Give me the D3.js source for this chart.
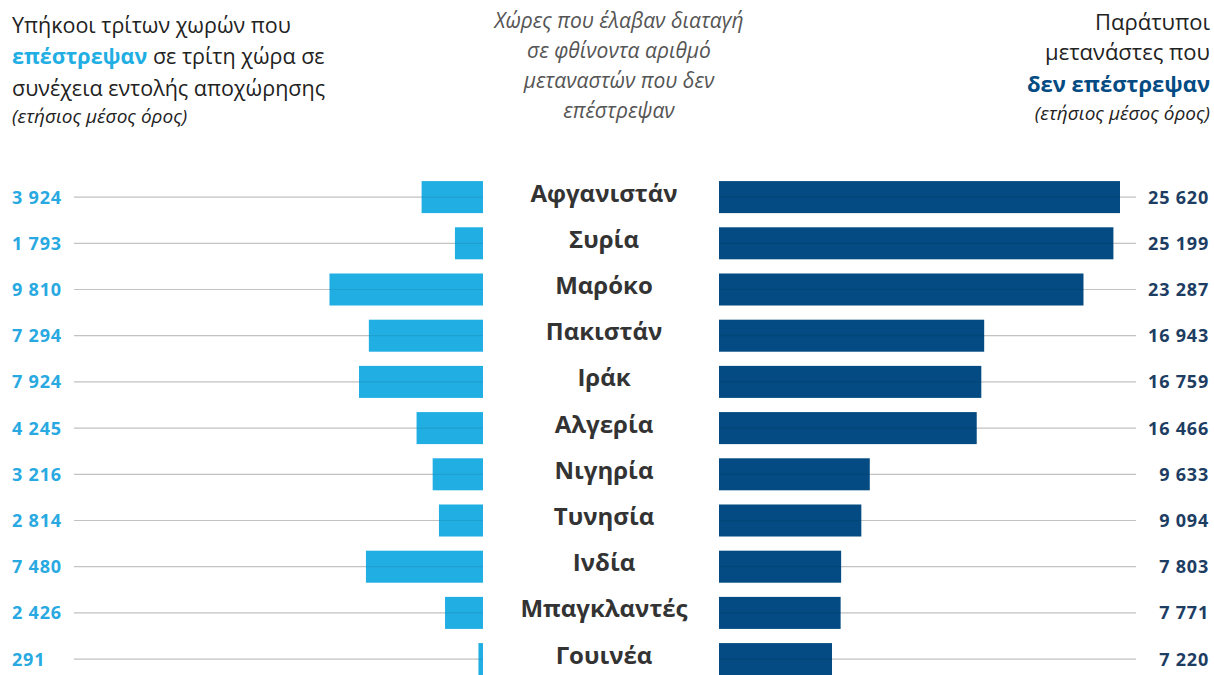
<!DOCTYPE html>
<html><head><meta charset="utf-8">
<script src="https://cdn.jsdelivr.net/npm/d3@7"></script>
<style>
html,body{margin:0;padding:0;background:#fff;}
svg{display:block;font-family:"Open Sans","Noto Sans",sans-serif;}
</style></head>
<body>
<svg id="chart" width="1214" height="675"></svg>
<script>
const countries = ["Αφγανιστάν","Συρία","Μαρόκο","Πακιστάν","Ιράκ","Αλγερία","Νιγηρία","Τυνησία","Ινδία","Μπαγκλαντές","Γουινέα"];
const returned = [3924,1793,9810,7294,7924,4245,3216,2814,7480,2426,291];
const notReturned = [25620,25199,23287,16943,16759,16466,9633,9094,7803,7771,7220];

const svg = d3.select("#chart");
const fmt = d3.formatLocale({decimal:",", thousands:" ", grouping:[3], currency:["","€"]}).format(",d");

const y = d3.scaleBand().domain(countries).range([174, 682.2]).paddingInner(0.307).paddingOuter(0.1535);
const xL = d3.scaleLinear().domain([0, 10000]).range([483, 483 - 156.5]);
const xR = d3.scaleLinear().domain([0, 25620]).range([719, 1120]);

const lightBlue = "#21aee3", darkBlue = "#034b82";
const cy = d => y(d) + y.bandwidth()/2;

// gridlines
svg.append("g").selectAll("line").data(countries).join("line")
  .attr("x1", 74).attr("x2", 483).attr("y1", cy).attr("y2", cy)
  .attr("stroke", "#d4d4d4").attr("stroke-width", 1.2);
svg.append("g").selectAll("line").data(countries).join("line")
  .attr("x1", 719).attr("x2", 1136).attr("y1", cy).attr("y2", cy)
  .attr("stroke", "#d4d4d4").attr("stroke-width", 1.2);

// left bars
svg.append("g").selectAll("rect").data(countries).join("rect")
  .attr("x", (d,i) => xL(returned[i]))
  .attr("width", (d,i) => xL(0) - xL(returned[i]))
  .attr("y", d => y(d)).attr("height", y.bandwidth())
  .attr("fill", lightBlue);
// right bars
svg.append("g").selectAll("rect").data(countries).join("rect")
  .attr("x", xR(0))
  .attr("width", (d,i) => xR(notReturned[i]) - xR(0))
  .attr("y", d => y(d)).attr("height", y.bandwidth())
  .attr("fill", darkBlue);

// lines visible through bars
svg.append("g").selectAll("line").data(countries).join("line")
  .attr("x1", 74).attr("x2", 483).attr("y1", cy).attr("y2", cy)
  .attr("stroke", "#000").attr("stroke-opacity", 0.08).attr("stroke-width", 1.2);
svg.append("g").selectAll("line").data(countries).join("line")
  .attr("x1", 719).attr("x2", 1136).attr("y1", cy).attr("y2", cy)
  .attr("stroke", "#000").attr("stroke-opacity", 0.08).attr("stroke-width", 1.2);

// country labels
svg.append("g").selectAll("text").data(countries).join("text")
  .attr("x", 604).attr("y", d => cy(d) - 4)
  .attr("dy", "0.35em").attr("text-anchor", "middle")
  .attr("font-size", 24).attr("font-weight", 700).attr("fill", "#333")
  .text(d => d);

// left values
svg.append("g").selectAll("text").data(countries).join("text")
  .attr("x", 12).attr("y", cy)
  .attr("dy", "0.36em").attr("letter-spacing", 0.8)
  .attr("font-size", 18).attr("font-weight", 700).attr("fill", "#29a9e1")
  .text((d,i) => fmt(returned[i]));
// right values
svg.append("g").selectAll("text").data(countries).join("text")
  .attr("x", 1209).attr("y", cy)
  .attr("dy", "0.36em").attr("text-anchor", "end").attr("letter-spacing", 0.8)
  .attr("font-size", 18).attr("font-weight", 700).attr("fill", "#1d3d63")
  .text((d,i) => fmt(notReturned[i]));

// headers
const hl = svg.append("text").attr("font-size", 21.5).attr("fill", "#222");
hl.append("tspan").attr("x", 12).attr("y", 33).text("Υπήκοοι τρίτων χωρών που");
const l2 = hl.append("tspan").attr("x", 12).attr("y", 64);
l2.append("tspan").attr("font-weight", 700).attr("fill", lightBlue).text("επέστρεψαν");
l2.append("tspan").text(" σε τρίτη χώρα σε");
hl.append("tspan").attr("x", 12).attr("y", 96).text("συνέχεια εντολής αποχώρησης");
hl.append("tspan").attr("x", 12).attr("y", 123).attr("font-size", 19).attr("font-style", "italic").text("(ετήσιος μέσος όρος)");

const hc = svg.append("text").attr("font-size", 21).attr("font-style", "italic").attr("fill", "#555").attr("text-anchor", "middle");
["Χώρες που έλαβαν διαταγή","σε φθίνοντα αριθμό","μεταναστών που δεν","επέστρεψαν"].forEach((t,i) => {
  hc.append("tspan").attr("x", 619).attr("y", 28 + i*30).text(t);
});

const hr = svg.append("text").attr("font-size", 22).attr("fill", "#222").attr("text-anchor", "end");
hr.append("tspan").attr("x", 1210).attr("y", 30).text("Παράτυποι");
hr.append("tspan").attr("x", 1210).attr("y", 60).text("μετανάστες που");
hr.append("tspan").attr("x", 1210).attr("y", 92).attr("font-weight", 700).attr("fill", darkBlue).text("δεν επέστρεψαν");
hr.append("tspan").attr("x", 1210).attr("y", 120).attr("font-size", 19).attr("font-style", "italic").text("(ετήσιος μέσος όρος)");
</script>
</body></html>
